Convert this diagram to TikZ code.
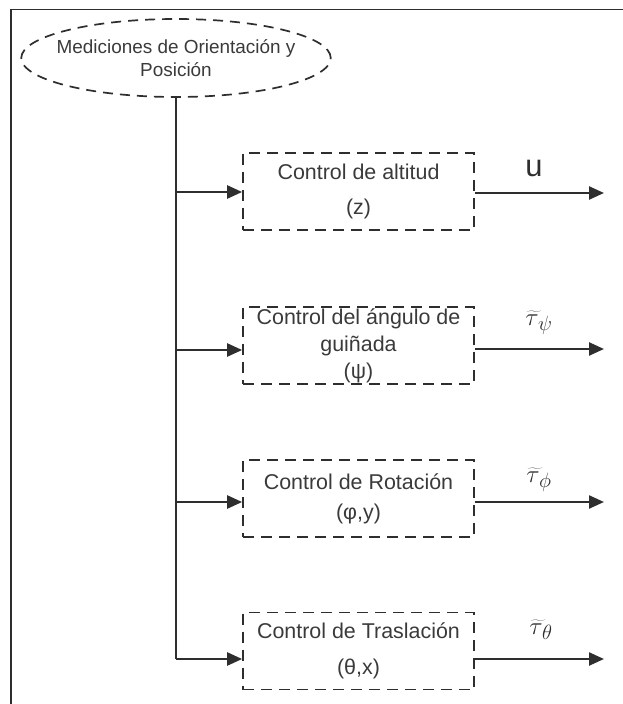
\documentclass[tikz,border=0pt]{standalone}
\usepackage{fontspec}
\setmainfont{Liberation Sans}
\usetikzlibrary{arrows.meta,positioning,shapes.geometric}
\definecolor{CtrlGray}{HTML}{2E2E2E}
\definecolor{CtrlText}{HTML}{3A3A3A}

\begin{document}
\begin{tikzpicture}[x=1bp, y=-1bp,
    ctrlbox/.style={draw=CtrlGray, dash pattern=on 11bp off 7bp, line width=1.7bp,
                    minimum width=231bp, minimum height=77bp, align=center,
                    inner sep=0pt, text=CtrlText, font=\fontsize{21.5}{27}\selectfont},
    meas/.style={ellipse, draw=CtrlGray, dash pattern=on 10bp off 7bp, line width=1.7bp,
                 inner xsep=-10bp, inner ysep=0pt, minimum height=78bp, align=center,
                 text=CtrlText, font=\fontsize{19}{23}\selectfont},
    arrow/.style={-{Triangle[length=15bp, width=13bp]}, line width=2.4bp, draw=CtrlGray},
    trunk/.style={line width=1.9bp, draw=CtrlGray},
    outlabel/.style={text=CtrlGray, inner sep=0pt, font=\fontsize{32}{32}\selectfont}
]
\useasboundingbox (0,0) rectangle (623,704);
\draw[line width=1.5bp, draw=CtrlGray] (11,704) -- (11,9.5) -- (623,9.5);

\node[meas] (meas) at (176,58) {Mediciones de Orientación y\\Posición};

\node[ctrlbox] (altitud) at (358.5,191.5) {Control de altitud\\[8bp](z)};
\node[ctrlbox] (guinada) at (358.5,345.5) {Control del ángulo de\\guiñada\\(ψ)};
\node[ctrlbox] (rotacion) at (358.5,498.5) {Control de Rotación\\[3bp](φ,y)};
\node[ctrlbox] (traslacion) at (358.5,651) {Control de Traslación\\[9bp](θ,x)};

% junctions on the trunk and free ends of the outputs
\coordinate (j1) at (176,192);
\coordinate (j2) at (176,350);
\coordinate (j3) at (176,502);
\coordinate (j4) at (176,659);
\coordinate (o1) at (604,193);
\coordinate (o2) at (604,349);
\coordinate (o3) at (604,502);
\coordinate (o4) at (604,659);

\draw[trunk] (meas.south) -- (j4);
\draw[arrow] (j1) -- (j1 -| altitud.west);
\draw[arrow] (j2) -- (j2 -| guinada.west);
\draw[arrow] (j3) -- (j3 -| rotacion.west);
\draw[arrow] (j4) -- (j4 -| traslacion.west);
\draw[arrow] (o1 -| altitud.east) -- (o1);
\draw[arrow] (o2 -| guinada.east) -- (o2);
\draw[arrow] (o3 -| rotacion.east) -- (o3);
\draw[arrow] (o4 -| traslacion.east) -- (o4);

\node[outlabel, font=\fontsize{31}{31}\selectfont] (lu) at (534,168) {u};
\node[outlabel] (lpsi) at (539,323) {$\widetilde{\tau\mkern3mu}_{\mkern-4mu\psi}$};
\node[outlabel] (lphi) at (539,480) {$\widetilde{\tau\mkern3mu}_{\mkern-4mu\phi}$};
\node[outlabel] (ltheta) at (541,630) {$\widetilde{\tau\mkern3mu}_{\mkern-4mu\theta}$};
\end{tikzpicture}
\end{document}
